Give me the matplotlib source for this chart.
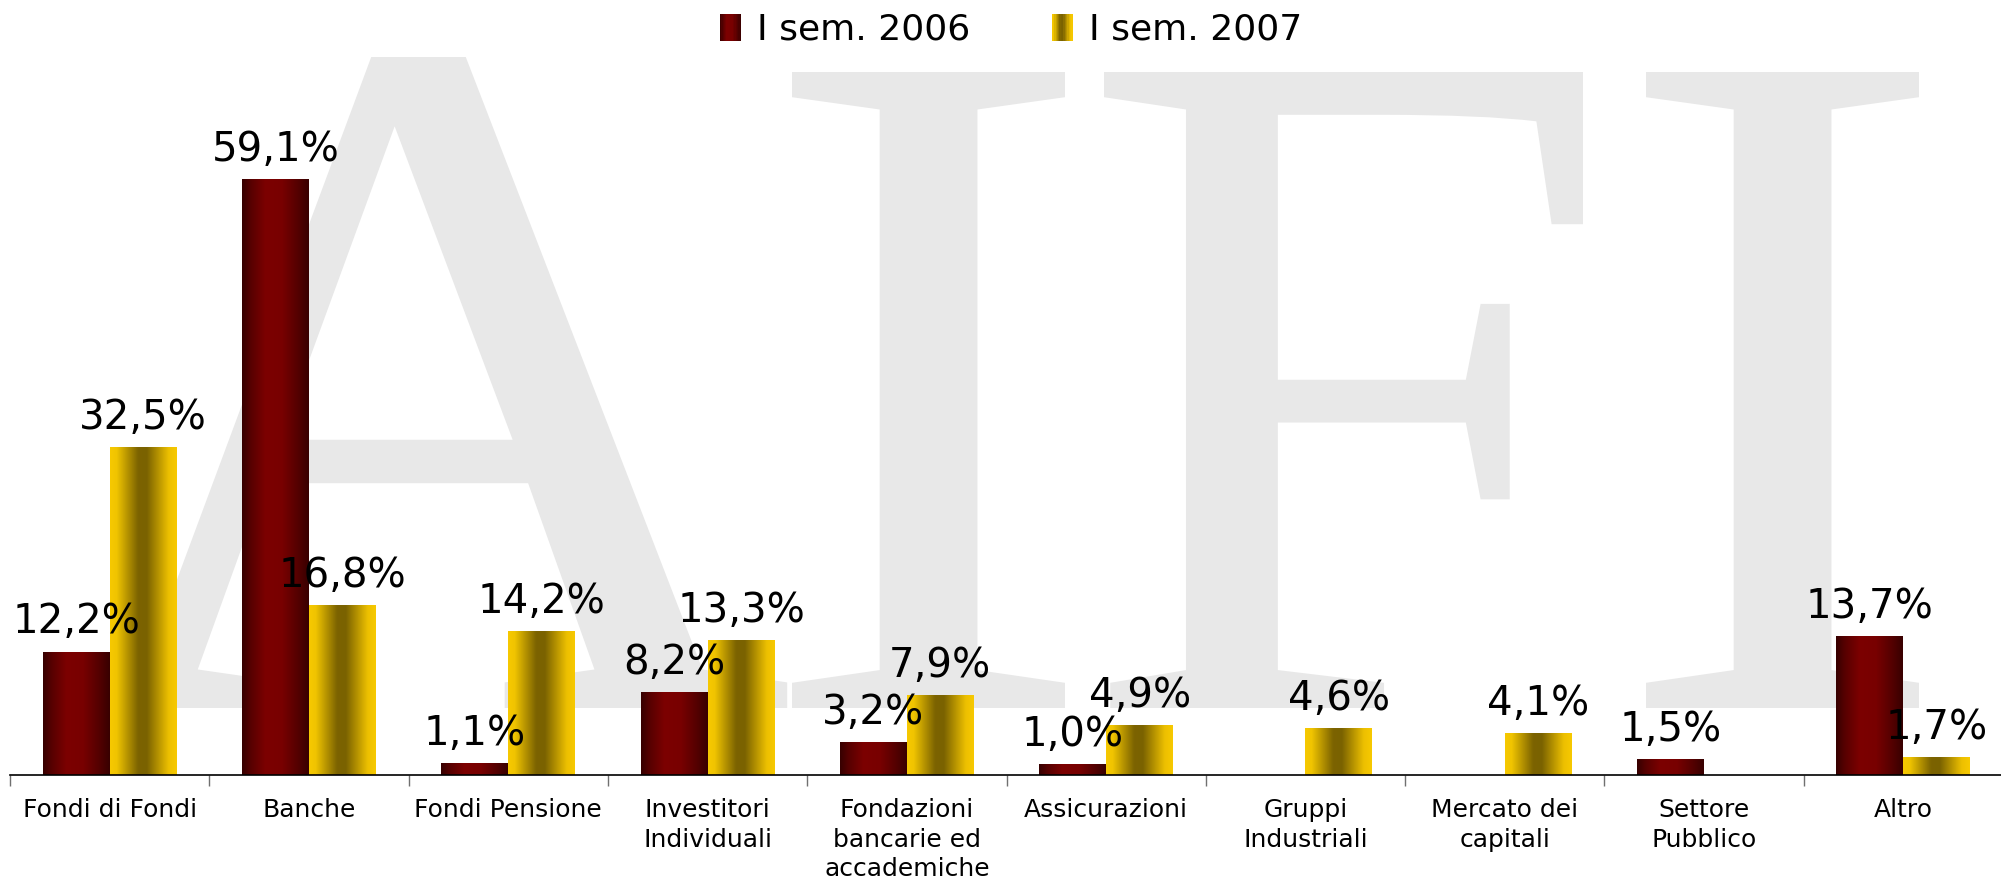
import numpy as np
import matplotlib
matplotlib.use('Agg')
import matplotlib.pyplot as plt
from matplotlib.colors import LinearSegmentedColormap
from matplotlib.patches import Rectangle, PathPatch
from matplotlib.textpath import TextPath
from matplotlib.font_manager import FontProperties
from matplotlib.transforms import Affine2D
from matplotlib.legend_handler import HandlerBase

# data
categories = ['Fondi di Fondi', 'Banche', 'Fondi Pensione', 'Investitori\nIndividuali',
              'Fondazioni\nbancarie ed\naccademiche', 'Assicurazioni', 'Gruppi\nIndustriali',
              'Mercato dei\ncapitali', 'Settore\nPubblico', 'Altro']
sem_2006 = [12.2, 59.1, 1.1, 8.2, 3.2, 1.0, 0.0, 0.0, 1.5, 13.7]
sem_2007 = [32.5, 16.8, 14.2, 13.3, 7.9, 4.9, 4.6, 4.1, 0.0, 1.7]
series_names = ['I sem. 2006', 'I sem. 2007']

W, H = 2001, 883

# horizontal "cylinder" gradients of the bars
cmap_06 = LinearSegmentedColormap.from_list('c06', [
    (0.0, '#360000'), (0.12, '#550000'), (0.35, '#7C0000'), (0.6, '#780000'),
    (0.85, '#520000'), (1.0, '#380000')])
cmap_07 = LinearSegmentedColormap.from_list('c07', [
    (0.0, '#F7C900'), (0.1, '#F0C400'), (0.42, '#7C6300'), (0.55, '#7A6200'),
    (0.88, '#EDC000'), (1.0, '#F7C900')])


class GradientHandler(HandlerBase):
    def __init__(self, cmap):
        super().__init__()
        self.cmap = cmap

    def create_artists(self, legend, orig_handle, xdescent, ydescent, width, height, fontsize, trans):
        n = 16
        arts = []
        for i in range(n):
            arts.append(Rectangle((-xdescent + width * i / n, -ydescent), width / n * 1.05, height,
                                  facecolor=self.cmap((i + 0.5) / n), edgecolor='none',
                                  transform=trans))
        return arts


fig = plt.figure(figsize=(W / 100, H / 100), dpi=100)
ax = fig.add_axes([10 / W, 108 / H, 1993 / W, 775 / H])
ax.patch.set_alpha(0)

# AIFI watermark
fp = FontProperties(family='Liberation Serif')
baseline = H - 708


def place_glyph(ch, height, left=None, right=None, apex=None, sx=None):
    p = TextPath((0, 0), ch, size=100, prop=fp)
    e = p.get_extents()
    sy = height / e.height
    if sx is None:
        sx = (right - left) / e.width
    if apex is not None:
        v = p.vertices
        top = v[:, 1].max()
        ax_x = v[v[:, 1] > top - 0.5, 0].mean()
        tx = apex - (ax_x - e.x0) * sx
    else:
        tx = left
    return p, e, sx, sy, tx


glyphs = [place_glyph('I', 636, 792, 1065), place_glyph('F', 636, 1104, 1583),
          place_glyph('I', 636, 1646, 1919)]
sx_mean = np.mean([g[2] for g in glyphs])
glyphs.append(place_glyph('A', 651, apex=418.5, sx=sx_mean))
for p, e, sx, sy, tx in glyphs:
    tr = Affine2D().translate(-e.x0, -e.y0).scale(sx, sy).translate(tx, baseline).scale(1 / W, 1 / H) + fig.transFigure
    fig.add_artist(PathPatch(p, transform=tr, facecolor='#E8E8E8', edgecolor='none', zorder=-1))

# bars
x = np.arange(len(categories))
bw = 0.336
b06 = ax.bar(x - bw / 2, sem_2006, bw, color='none', edgecolor='none', label=series_names[0])
b07 = ax.bar(x + bw / 2, sem_2007, bw, color='none', edgecolor='none', label=series_names[1])
grad = np.linspace(0, 1, 256).reshape(1, -1)
for bars, vals, cmap in [(b06, sem_2006, cmap_06), (b07, sem_2007, cmap_07)]:
    for r, v in zip(bars, vals):
        if v <= 0:
            continue
        x0, w = r.get_x(), r.get_width()
        ax.imshow(grad, extent=[x0, x0 + w, 0, v], aspect='auto', cmap=cmap,
                  interpolation='bilinear', zorder=2)
        ax.annotate(f'{v:.1f}'.replace('.', ',') + '%', (x0 + w / 2, v), xytext=(0, 7),
                    textcoords='offset points', ha='center', va='bottom', fontsize=29, zorder=3)

ax.set_xlim(-0.5, 9.5)
ax.set_ylim(0, 775 / 10.08)
ax.set_yticks([])
ax.set_xticks(x)
ax.set_xticklabels(categories, fontsize=18, linespacing=1.3)
ax.set_xticks(np.arange(-0.5, 10, 1), minor=True)
ax.tick_params(axis='x', which='major', length=0, pad=16.5)
ax.tick_params(axis='x', which='minor', length=8, width=1, color='#707070')
for s in ['left', 'top', 'right']:
    ax.spines[s].set_visible(False)
ax.spines['bottom'].set_linewidth(1.2)
ax.spines['bottom'].set_color('black')

fig.legend([b06, b07], series_names, loc='center', bbox_to_anchor=(1011 / W, 1 - 30 / H),
           ncol=2, frameon=False, fontsize=26, handlelength=0.58, handleheight=0.8,
           handletextpad=0.45, columnspacing=2.25,
           handler_map={b06: GradientHandler(cmap_06), b07: GradientHandler(cmap_07)})

fig.savefig('out.png', dpi=100)
